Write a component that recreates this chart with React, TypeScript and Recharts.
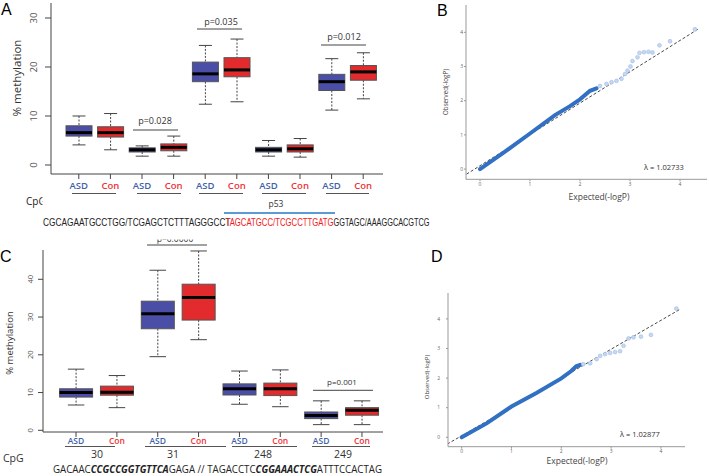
import { ComposedChart, Bar, XAxis, YAxis, Line, Scatter } from "recharts";

// panel A: % methylation boxes (5 CpG sites, ASD vs Con)
const aLabels = ["ASD", "Con", "ASD", "Con", "ASD", "Con", "ASD", "Con", "ASD", "Con"];
const aMax = [10.0, 10.5, 3.9, 5.9, 24.4, 25.7, 5.0, 5.4, 21.7, 22.9];
const aQ3 = [8.0, 7.8, 3.5, 4.3, 21.0, 21.9, 3.6, 4.1, 18.5, 20.3];
const aMedian = [6.6, 6.6, 3.1, 3.6, 18.6, 19.4, 3.1, 3.3, 17.0, 19.0];
const aQ1 = [5.9, 5.7, 2.65, 2.9, 17.0, 18.0, 2.65, 2.65, 15.2, 17.3];
const aMin = [4.1, 3.1, 1.8, 1.8, 12.4, 12.9, 1.8, 1.6, 11.2, 13.5];
const aTicks = [0, 10, 20, 30];

// panel C
const cLabels = ["ASD", "Con", "ASD", "Con", "ASD", "Con", "ASD", "Con"];
const cMax = [16.2, 14.5, 42.4, 47.5, 15.7, 16.0, 7.8, 7.8];
const cQ3 = [11.0, 11.7, 34.2, 38.7, 12.3, 12.5, 4.85, 6.0];
const cMedian = [10.0, 10.1, 30.9, 35.2, 11.0, 11.0, 3.9, 5.3];
const cQ1 = [8.8, 9.3, 26.9, 29.2, 9.35, 9.2, 3.1, 4.0];
const cMin = [6.7, 6.0, 19.5, 24.0, 6.9, 6.25, 1.5, 1.5];
const cTicks = [0, 10, 20, 30, 40];
const cSites = ["30", "31", "248", "249"];

// panel B: QQ plot
const bDenseX = [0, 0.5, 1, 1.5, 1.8, 2, 2.2, 2.33];
const bDenseY = [0, 0.51, 1.04, 1.58, 1.84, 2.04, 2.29, 2.36];
const bTailX = [2.4, 2.53, 2.63, 2.73, 2.83, 2.9, 2.95, 3.01, 3.05, 3.15, 3.19, 3.28, 3.37, 3.45, 3.59, 3.8, 4.3];
const bTailY = [2.43, 2.49, 2.54, 2.58, 2.64, 2.78, 2.88, 3.0, 3.16, 3.27, 3.4, 3.42, 3.43, 3.41, 3.62, 3.74, 4.09];
const bDiagX = [-0.27, 4.39];
const bDiagY = [-0.15, 4.12];

// panel D: QQ plot
const dDenseX = [0, 0.5, 1, 1.5, 2, 2.2, 2.3, 2.38];
const dDenseY = [0, 0.47, 1.04, 1.5, 1.99, 2.24, 2.4, 2.45];
const dTailX = [2.44, 2.58, 2.71, 2.78, 2.88, 2.98, 3.08, 3.18, 3.25, 3.35, 3.45, 3.6, 3.8, 4.31];
const dTailY = [2.47, 2.5, 2.64, 2.75, 2.81, 2.85, 2.88, 2.91, 3.09, 3.34, 3.38, 3.4, 3.46, 4.35];
const dDiagX = [-0.29, 4.39];
const dDiagY = [-0.23, 4.33];
const qqTicks = [0, 1, 2, 3, 4];

const BLUE_BOX = "#4b4ea6";
const RED_BOX = "#e32a2c";
const ASD_TEXT = "#3f63a8";
const CON_TEXT = "#ee3338";
const QQ_DARK = "#3170c2";
const FONT = "'Open Sans', 'Liberation Sans', sans-serif";
const NARROW = "'Liberation Sans', sans-serif";

const W = 709;
const H = 476;

const boxRows = (prefix: string, labels: string[], mn: number[], q1: number[], md: number[], q3: number[], mx: number[]) =>
  labels.map((label, i) => ({
    id: `${prefix}${i}`,
    label,
    min: mn[i],
    q1: q1[i],
    median: md[i],
    q3: q3[i],
    max: mx[i],
  }));

const aData = boxRows("a", aLabels, aMin, aQ1, aMedian, aQ3, aMax);
const cData = boxRows("c", cLabels, cMin, cQ1, cMedian, cQ3, cMax);

const pts = (xs: number[], ys: number[]) => xs.map((x, i) => ({ x, y: ys[i] }));

const BoxShape = (props: any) => {
  const { x, y, width, height, payload } = props;
  if (!payload) return null;
  const top = Math.min(y, y + height);
  const bot = Math.max(y, y + height);
  const span = payload.max - payload.min;
  const py = (v: number) => top + ((payload.max - v) / span) * (bot - top);
  const cx = x + width / 2;
  const cap = width * 0.25;
  const fill = payload.label === "ASD" ? BLUE_BOX : RED_BOX;
  return (
    <g>
      <line x1={cx} x2={cx} y1={py(payload.max)} y2={py(payload.q3)} stroke="#444" strokeDasharray="2 1.5" />
      <line x1={cx} x2={cx} y1={py(payload.q1)} y2={py(payload.min)} stroke="#444" strokeDasharray="2 1.5" />
      <line x1={cx - cap} x2={cx + cap} y1={py(payload.max)} y2={py(payload.max)} stroke="#444" />
      <line x1={cx - cap} x2={cx + cap} y1={py(payload.min)} y2={py(payload.min)} stroke="#444" />
      <rect x={x} y={py(payload.q3)} width={width} height={py(payload.q1) - py(payload.q3)} fill={fill} stroke="#555" />
      <line x1={x} x2={x + width} y1={py(payload.median)} y2={py(payload.median)} stroke="#000" strokeWidth={3} />
    </g>
  );
};

const catTick = (rows: any[], dy: number, fontSize: number) => (p: any) => {
  const row = rows.find((r) => r.id === p.payload.value);
  if (!row) return <g />;
  return (
    <text x={p.x} y={p.y + dy} textAnchor="middle" fontSize={fontSize} fontFamily={FONT} fontWeight={600}
      fill={row.label === "ASD" ? ASD_TEXT : CON_TEXT}>
      {row.label}
    </text>
  );
};

const rotTick = (dx: number, fontSize: number) => (p: any) => (
  <text transform={`translate(${p.x + dx},${p.y}) rotate(-90)`} textAnchor="middle" fontSize={fontSize}
    fontFamily={FONT} fill="#555">
    {p.payload.value}
  </text>
);

const layer: React.CSSProperties = { position: "absolute", left: 0, top: 0 };

const BoxPanel = ({ data, margin, domain, ticks, pad, barSize, yTickDx, yTickFont, xTickDy, xTickFont, yTickSize }: any) => (
  <div style={layer}>
    <ComposedChart width={W} height={H} data={data} margin={margin}>
      <XAxis dataKey="id" type="category" height={1} padding={pad} interval={0} stroke="#444" tickSize={5}
        tick={catTick(data, xTickDy, xTickFont)} />
      <YAxis type="number" width={1} domain={domain} ticks={ticks} allowDataOverflow stroke="#444"
        tickSize={yTickSize} tick={rotTick(yTickDx, yTickFont)} />
      <Bar dataKey={(d: any) => [d.min, d.max]} barSize={barSize} shape={BoxShape} isAnimationActive={false} />
    </ComposedChart>
  </div>
);

const QQPanel = ({ margin, xDomain, yDomain, dense, tail, diag, yTickMargin }: any) => (
  <div style={layer}>
    <ComposedChart width={W} height={H} margin={margin}>
      <XAxis dataKey="x" type="number" height={1} domain={xDomain} ticks={qqTicks} allowDataOverflow
        stroke="#999" tickSize={2} tickMargin={1} tick={{ fontSize: 5, fill: "#666", fontFamily: FONT }} />
      <YAxis dataKey="y" type="number" width={1} domain={yDomain} ticks={qqTicks} allowDataOverflow
        stroke="#999" tickSize={2} tickMargin={yTickMargin} tick={{ fontSize: 5, fill: "#666", fontFamily: FONT }} />
      <Line data={diag} dataKey="y" stroke="#333" strokeWidth={0.9} strokeDasharray="3 2" dot={false}
        isAnimationActive={false} />
      <Line data={dense} dataKey="y" stroke={QQ_DARK} strokeWidth={4} strokeLinecap="round" dot={false}
        isAnimationActive={false} />
      <Scatter data={tail} dataKey="y" isAnimationActive={false}
        shape={(p: any) => <circle cx={p.cx} cy={p.cy} r={1.9} fill="#c6d8f2" stroke="#9dbbe6" strokeWidth={0.6} />} />
    </ComposedChart>
  </div>
);

// horizontally squeezed sequence piece (narrow-font look)
const Squeezed = ({ x, y, sx, fill, size, children }: any) => (
  <text transform={`translate(${x},${y}) scale(${sx},1)`} fontSize={size} fontFamily={NARROW} fill={fill}>
    {children}
  </text>
);

const Overlay = () => (
  <svg width={W} height={H} style={{ ...layer, pointerEvents: "none" }} fontFamily={FONT}>
    {/* panel letters */}
    <text x={1} y={15} fontSize={16} fontFamily="'Liberation Sans', sans-serif">A</text>
    <text x={437} y={16} fontSize={16} fontFamily="'Liberation Sans', sans-serif">B</text>
    <text x={0} y={262} fontSize={16} fontFamily="'Liberation Sans', sans-serif">C</text>
    <text x={431} y={262} fontSize={16} fontFamily="'Liberation Sans', sans-serif">D</text>

    {/* panel A annotations */}
    <text transform="translate(21,78) rotate(-90)" textAnchor="middle" fontSize={11.5} fill="#333">% methylation</text>
    <text x={155} y={124} textAnchor="middle" fontSize={9} fill="#333">p=0.028</text>
    <line x1={133} x2={178} y1={130} y2={130} stroke="#444" />
    <text x={221} y={25} textAnchor="middle" fontSize={9} fill="#333">p=0.035</text>
    <line x1={197} x2={242} y1={29} y2={29} stroke="#444" />
    <text x={344} y={40} textAnchor="middle" fontSize={9} fill="#333">p=0.012</text>
    <line x1={321} x2={366} y1={45} y2={45} stroke="#444" />
    {[[72, 116], [137, 181], [199, 243], [262, 306], [326, 369]].map(([a, b], i) => (
      <line key={`ua${i}`} x1={a} x2={b} y1={193.5} y2={193.5} stroke="#555" />
    ))}
    <text x={26} y={205} fontSize={10} fill="#222">CpG</text>
    <rect x={42.5} y={194} width={10} height={16} fill="#fff" />
    <text x={276} y={207} textAnchor="middle" fontSize={8.5} fill="#333">p53</text>
    <line x1={224} x2={335} y1={213} y2={213} stroke="#5b9bd5" strokeWidth={2} />
    <Squeezed x={43} y={226} sx={0.79} size={10.5} fill="#222">CGCAGAATGCCTGG/TCGAGCTCTTTAGGGCCT</Squeezed>
    <Squeezed x={225.5} y={226} sx={0.74} size={10.5} fill="#ee1c1c">TAGCATGCC/TCGCCTTGATG</Squeezed>
    <Squeezed x={333.5} y={226} sx={0.7} size={10.5} fill="#222">GGTAGC/AAAGGCACGTCG</Squeezed>

    {/* panel C annotations */}
    <text x={175} y={242} textAnchor="middle" fontSize={8.5} fill="#333">p=0.0000</text>
    <rect x={140} y={228.5} width={75} height={11} fill="#fff" />
    <line x1={147} x2={207} y1={245} y2={245} stroke="#444" />
    <text x={342} y={385} textAnchor="middle" fontSize={8} fill="#333">p=0.001</text>
    <line x1={313} x2={373} y1={390.3} y2={390.3} stroke="#444" />
    <text transform="translate(13,343) rotate(-90)" textAnchor="middle" fontSize={9.5} fill="#333">% methylation</text>
    {[[65, 115], [145, 226], [232, 297], [312, 370]].map(([a, b], i) => (
      <line key={`uc${i}`} x1={a} x2={b} y1={446.5} y2={446.5} stroke="#555" />
    ))}
    {cSites.map((s, i) => (
      <text key={s} x={[97, 173, 263, 343][i]} y={458} textAnchor="middle" fontSize={10.5} fill="#333">{s}</text>
    ))}
    <text x={3} y={462} fontSize={10.5} fill="#333">CpG</text>
    <text x={53} y={473} fontSize={10} textLength={329} lengthAdjust="spacingAndGlyphs" fill="#222">
      GACAAC<tspan fontWeight="bold" fontStyle="italic">CCGCCGGTGTTCA</tspan>GAGA // TAGACCTC
      <tspan fontWeight="bold" fontStyle="italic">CGGAAACTCG</tspan>ATTTCCACTAG
    </text>

    {/* panel B annotations */}
    <text x={599} y={200} textAnchor="middle" fontSize={8.5} fill="#444">Expected(-logP)</text>
    <text transform="translate(448,92) rotate(-90)" textAnchor="middle" fontSize={6.2} fill="#444">Observed(-logP)</text>
    <text x={644} y={170} fontSize={7.5} fill="#333">λ = 1.02733</text>

    {/* panel D annotations */}
    <text x={577} y={464} textAnchor="middle" fontSize={8.5} fill="#444">Expected(-logP)</text>
    <text transform="translate(429,377) rotate(-90)" textAnchor="middle" fontSize={6} fill="#444">Observed(-logP)</text>
    <text x={620} y={437} fontSize={7.5} fill="#333">λ = 1.02877</text>
  </svg>
);

export default function App() {
  return (
    <div style={{ position: "absolute", left: 0, top: 0, width: W, height: H, background: "#fff" }}>
      <BoxPanel data={aData} margin={{ top: 3, left: 50, right: 326, bottom: 301 }} domain={[-1.84, 33.06]}
        ticks={aTicks} pad={{ left: 12, right: 4 }} barSize={26} yTickDx={-6.5} yTickFont={9.5}
        xTickDy={8} xTickFont={9.5} yTickSize={6} />
      <BoxPanel data={cData} margin={{ top: 250, left: 42, right: 326, bottom: 43 }} domain={[-0.45, 47.76]}
        ticks={cTicks} pad={{ left: 12.6, right: 0.6 }} barSize={33} yTickDx={-3} yTickFont={7.5}
        xTickDy={4.5} xTickFont={8.5} yTickSize={5} />
      <QQPanel margin={{ top: 5, left: 465, right: 2, bottom: 295.7 }} xDomain={[-0.28, 4.54]} yDomain={[-0.3, 4.8]}
        dense={pts(bDenseX, bDenseY)} tail={pts(bTailX, bTailY)} diag={pts(bDiagX, bDiagY)} yTickMargin={1} />
      <QQPanel margin={{ top: 293, left: 447, right: 24, bottom: 28.3 }} xDomain={[-0.275, 4.484]}
        yDomain={[-0.318, 4.875]} dense={pts(dDenseX, dDenseY)} tail={pts(dTailX, dTailY)}
        diag={pts(dDiagX, dDiagY)} yTickMargin={6} />
      <Overlay />
    </div>
  );
}
